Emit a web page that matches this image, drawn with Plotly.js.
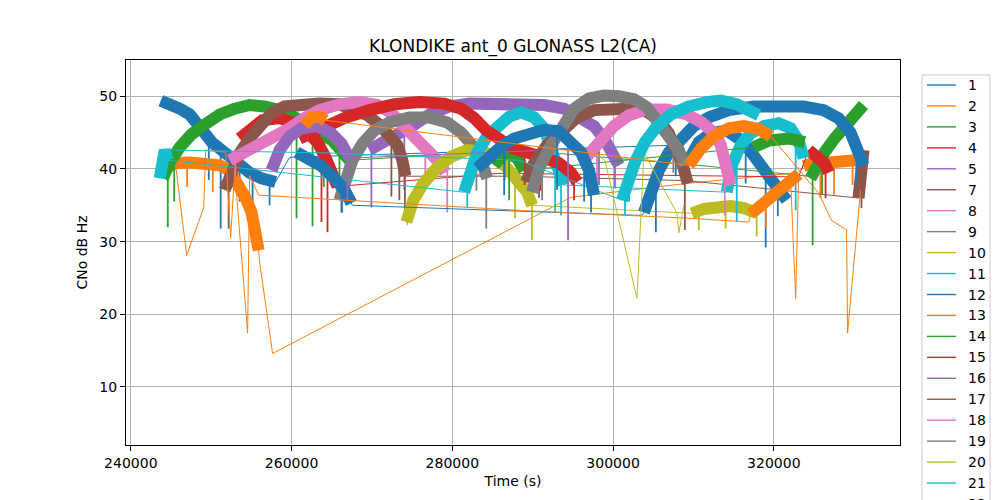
<!DOCTYPE html>
<html>
<head>
<meta charset="utf-8">
<script src="https://cdn.plot.ly/plotly-3.0.1.min.js"></script>
<style>html,body{margin:0;padding:0;background:#fff;}#chart{width:1000px;height:500px;}</style>
</head>
<body>
<div id="chart"></div>
<script>
// ---- tick labels ----
const xTickVals = [240000, 260000, 280000, 300000, 320000];
const xTickText = ['240000', '260000', '280000', '300000', '320000'];
const yTickVals = [10, 20, 30, 40, 50];
const yTickText = ['10', '20', '30', '40', '50'];

// ---- satellites (legend labels) ----
const satNames = ['1','2','3','4','5','7','8','9','10','11','12','13','14','15','16','17','18','19','20','21','22','23'];

// ---- per satellite ----
// sN_t / sN_c : tracked passes, time (s) / CNo (dB-Hz), null = gap between passes
// sN_lt / sN_lc : sparse samples between passes (thin line path)
// sN_dt / sN_dh / sN_dl : fades (time, CNo before fade, CNo at bottom of fade)
const s1_t = [243730,244840,246090,247330,248200,249190,250060,251300,252920,254780,256270,258010,null,309430,310670,312160,314150,316260,317870,319610,321600];
const s1_c = [49.4,49.0,48.3,47.5,46.4,44.6,43.7,42.6,40.9,39.5,38.7,38.2,null,41.2,43.7,44.9,45.3,43.7,41.2,38.7,35.7];
const s1_lt = [259750,308560];
const s1_lc = [41.6,43.3];
const s1_dt = [249700,251180,253540,255150,257260,316500,318990,320500];
const s1_dh = [44.0,42.7,40.3,39.3,38.5,43.3,40.0,37.5];
const s1_dl = [38.5,31.8,35.5,32.7,35.0,38.0,29.2,33.5];

const s2_t = [243980,245470,247330,249190,251050,252300,253290,254280,255030,255530,255900,null,323710,324950,326820,328680,330300,331160];
const s2_c = [39.8,40.8,40.9,40.8,40.5,39.8,38.2,36.0,34.0,31.3,28.8,null,40.4,40.8,40.9,41.1,41.2,40.6];
const s2_lt = [256020,257640,294770,309060,323090];
const s2_lc = [27.2,14.6,36.1,38.0,39.5];
const s2_dt = [247000,250200,325800,327500,329800];
const s2_dh = [40.9,40.6,40.8,41.0,41.1];
const s2_dl = [37.5,36.8,36.0,36.5,37.8];

const s3_t = [243980,244840,246090,247580,249190,251050,252920,254780,256640,258510,260370,261860,263470,265090,266330,267200,null,324580,325330,326320,327560,328800,330040,331160];
const s3_c = [38.7,40.9,43.0,44.8,46.1,47.5,48.3,48.8,48.6,48.1,47.1,45.9,45.0,43.9,42.6,41.2,null,38.7,40.5,42.3,44.2,46.0,47.7,48.8];
const s3_lt = [288310,310670,324330];
const s3_lc = [42.6,40.5,39.0];
const s3_dt = [244600,245400,260620,262610,264000,265960,324830,326000];
const s3_dh = [41.0,42.0,47.0,45.6,44.6,43.9,39.0,42.0];
const s3_dl = [32.0,35.5,33.2,32.1,37.5,36.2,29.5,36.5];

const s4_t = [253540,255030,256370,258510,260370,261980,263220,264220,265090,265710,null,324330,325330,326320,326820];
const s4_c = [44.2,45.6,46.7,47.0,46.3,45.0,43.7,41.6,39.5,37.6,null,42.6,41.7,40.8,39.5];
const s4_lt = [285830,323090];
const s4_lc = [39.4,38.9];
const s4_dt = [263720,264470,326440];
const s4_dh = [43.5,41.0,40.6];
const s4_dl = [32.7,31.3,36.0];

const s5_t = [269680,271550,273410,275270,277140,279620,282100,285210,288310,291420,293900,296010,297630,298870,299860,300730];
const s5_c = [42.6,43.7,44.9,46.1,47.5,48.6,49.0,49.0,48.9,48.8,48.3,47.2,45.9,44.2,42.6,40.5];
const s5_lt = [];
const s5_lc = [];
const s5_dt = [269930,274030,298250,300240];
const s5_dh = [42.8,45.3,45.2,42.0];
const s5_dl = [34.7,37.1,37.8,37.3];

const s7_t = [251680,252540,253540,254780,256020,257510,259130,260990,263470,265960,267820,269440,270930,272170,273160,273780,274160,null,330540,330790,331040,331160];
const s7_c = [37.1,39.8,42.2,44.2,45.9,47.7,48.6,48.9,49.0,48.9,48.3,47.4,46.1,44.8,43.3,41.2,39.0,null,36.0,38.7,41.2,42.6];
const s7_lt = [288310,309060];
const s7_lc = [39.0,38.4];
const s7_dt = [252170,272420,273410,274100,330910];
const s7_dh = [38.5,44.5,44.0,39.5,38.0];
const s7_dl = [31.8,36.2,35.7,34.3,34.6];

const s8_t = [252300,254160,256020,257890,259750,261610,263470,265960,268440,270680,272420,273780,275270,276890,278130,279120];
const s8_c = [41.2,42.3,43.1,44.2,45.6,47.0,48.1,48.9,49.2,48.8,47.7,46.1,44.2,42.6,41.2,39.5];
const s8_lt = [];
const s8_lc = [];
const s8_dt = [253000,276640,279370];
const s8_dh = [41.6,43.0,39.8];
const s8_dl = [38.5,37.6,34.0];

const s9_t = [265960,266580,267570,268810,270300,272170,274650,277140,279370,281110,282600,283590,284340];
const s9_c = [35.7,38.4,41.2,43.5,45.3,46.4,47.1,47.1,46.4,45.0,43.1,41.2,38.7];
const s9_lt = [];
const s9_lc = [];
const s9_dt = [266300,283000,284220];
const s9_dh = [37.5,42.4,39.5];
const s9_dl = [34.0,37.0,31.8];

const s10_t = [274280,275150,276390,278010,279870,281860,283850,285580,287070,288310,289310,289930,null,309800,311290,312910,314640,316260,317750];
const s10_c = [32.7,35.7,38.0,40.1,41.7,42.6,42.4,41.5,39.8,38.4,36.8,35.0,null,33.9,34.5,34.7,34.9,34.6,34.0];
const s10_lt = [];
const s10_lc = [];
const s10_dt = [274400,287800,289900,310670,314000,317870];
const s10_dh = [33.0,38.8,35.2,34.4,34.9,34.0];
const s10_dl = [32.3,33.2,30.2,31.6,31.8,30.7];

const s11_t = [243600,243850,244220,244600,null,281480,282100,283100,284340,285580,287070,288560,290180,291420,292290,293030,293780,null,314150,314770,315890,317130,318740,320610,322100,323090,323710];
const s11_c = [38.7,40.9,42.6,41.2,null,36.8,39.5,42.3,44.5,46.0,47.2,47.8,47.1,45.6,43.3,40.5,37.8,null,36.8,40.5,43.3,44.9,45.9,46.3,45.6,43.9,41.5];
const s11_lt = [];
const s11_lc = [];
const s11_dt = [281860,292790,293530,315390,322720];
const s11_dh = [37.5,41.8,39.0,42.5,44.8];
const s11_dl = [34.7,34.0,33.6,32.7,34.3];

const s12_t = [260620,262230,263720,265340,266580,267450,null,303840,304710,305700,306940,308430,310050,311910,314400,317500,320610,323710,326200,328060,329550,330540,331160];
const s12_c = [42.3,41.5,40.4,38.7,37.1,35.3,null,34.0,37.1,39.8,42.3,44.2,45.9,47.1,48.1,48.6,48.8,48.6,48.1,47.0,45.0,42.6,40.5];
const s12_lt = [267570,303590];
const s12_lc = [35.0,33.6];
const s12_dt = [266206,305330,307800,330290];
const s12_dh = [37.5,38.5,43.3,43.5];
const s12_dl = [34.0,31.3,39.0,37.8];

const s13_t = [317130,318370,319610,320850,322100,323090];
const s13_c = [33.8,34.9,36.0,37.1,38.3,39.3];
const s13_lt = [245590,246950,249070,249320,251800,252420,252920,254530,254780,255900,288310,309800,316880,322720];
const s13_lc = [40.4,28.1,34.7,42.6,42.3,30.5,39.8,17.4,39.1,36.4,34.3,33.2,32.7,22.2];
const s13_dt = [319000];
const s13_dh = [35.4];
const s13_dl = [32.0];

const s14_t = [285210,286450,288070,288940,null,317500,319360,321850,323840];
const s14_c = [40.5,42.3,41.5,39.8,null,43.0,43.9,44.2,43.7];
const s14_lt = [];
const s14_lc = [];
const s14_dt = [287070];
const s14_dh = [42.0];
const s14_dl = [35.7];

const s15_t = [260990,263470,266580,269680,272790,275890,278990,281100,282730,284220,285830,287690,289550,291420,293280,294770,295520];
const s15_c = [44.2,45.6,47.0,48.1,48.9,49.2,49.0,48.3,47.0,45.3,43.9,42.8,42.2,41.5,40.8,39.5,38.2];
const s15_lt = [];
const s15_lc = [];
const s15_dt = [286500,289000,291000,295150];
const s15_dh = [43.5,42.4,41.6,39.0];
const s15_dl = [38.5,37.8,37.0,35.7];

const s16_t = [257510,258510,259750,261240,263220,264960,266210,267200];
const s16_c = [39.8,42.6,44.5,45.6,45.9,44.9,43.5,41.5];
const s16_lt = [294400];
const s16_lc = [42.7];
const s16_dt = [266950,294400];
const s16_dh = [43.0,43.9];
const s16_dl = [35.7,30.2];

const s17_t = [289180,290180,291790,293530,295520,297630,299740,301980,304210,305700,306940,307940,308680,309300];
const s17_c = [38.2,40.8,43.3,45.3,47.1,48.1,48.3,48.3,47.9,46.7,44.9,42.8,40.5,38.0];
const s17_lt = [];
const s17_lc = [];
const s17_dt = [290800,308930];
const s17_dh = [40.5,39.0];
const s17_dl = [36.0,31.6];

const s18_t = [296640,298250,300110,301980,304210,306690,309180,311040,312530,313400,314150,314640];
const s18_c = [41.6,43.9,45.9,47.4,48.2,48.2,47.5,46.4,45.0,43.3,40.5,37.8];
const s18_lt = [];
const s18_lc = [];
const s18_dt = [298000,313900];
const s18_dh = [43.5,41.5];
const s18_dl = [37.1,33.6];

const s19_t = [289930,290800,292040,293530,295150,297010,298870,300730,302600,304210,305700,306940,308190,308930];
const s19_c = [36.8,40.1,42.8,45.6,48.3,49.7,50.1,50.0,49.6,48.5,46.4,44.5,42.6,40.5];
const s19_lt = [];
const s19_lc = [];
const s19_dt = [291170,307500];
const s19_dh = [41.0,43.5];
const s19_dl = [35.7,39.5];

const s20_t = [];
const s20_c = [];
const s20_lt = [297010,298990,302970,303840,307940,308190,308810];
const s20_lc = [42.6,41.2,22.2,42.3,33.9,31.2,35.0];
const s20_dt = [];
const s20_dh = [];
const s20_dl = [];

const s21_t = [301110,301730,302720,303960,305330,307190,309430,311660,313400,315390,317130,318120];
const s21_c = [35.7,38.2,40.9,43.7,45.7,47.5,48.6,49.2,49.4,48.9,48.1,47.4];
const s21_lt = [244840,264720,288310];
const s21_lc = [42.6,42.2,41.2];
const s21_dt = [301480,302000];
const s21_dh = [37.0,39.0];
const s21_dl = [33.6,35.5];

const s22_t = [283100,284590,286080,287690,289550,291420,293280,294770,296010,297010,297630];
const s22_c = [40.1,41.7,43.1,44.2,45.0,45.4,45.2,43.9,42.3,39.8,36.4];
const s22_lt = [];
const s22_lc = [];
const s22_dt = [286450,293030,296400,297260];
const s22_dh = [43.0,45.3,41.5,38.5];
const s22_dl = [36.4,37.1,35.5,34.0];

const s23_t = [261610,262480,263470,264220,null,309430,310920,312530,314400,316260,318120,319610];
const s23_c = [46.0,47.1,47.2,46.7,null,40.5,42.8,44.5,45.6,45.9,45.5,44.5];
const s23_lt = [325570,327190,329050,329180,330790];
const s23_lc = [36.7,32.9,31.6,17.4,37.1];
const s23_dt = [];
const s23_dh = [];
const s23_dl = [];

const satData = [
  [s1_t,s1_c,s1_lt,s1_lc,s1_dt,s1_dh,s1_dl],[s2_t,s2_c,s2_lt,s2_lc,s2_dt,s2_dh,s2_dl],
  [s3_t,s3_c,s3_lt,s3_lc,s3_dt,s3_dh,s3_dl],[s4_t,s4_c,s4_lt,s4_lc,s4_dt,s4_dh,s4_dl],
  [s5_t,s5_c,s5_lt,s5_lc,s5_dt,s5_dh,s5_dl],[s7_t,s7_c,s7_lt,s7_lc,s7_dt,s7_dh,s7_dl],
  [s8_t,s8_c,s8_lt,s8_lc,s8_dt,s8_dh,s8_dl],[s9_t,s9_c,s9_lt,s9_lc,s9_dt,s9_dh,s9_dl],
  [s10_t,s10_c,s10_lt,s10_lc,s10_dt,s10_dh,s10_dl],[s11_t,s11_c,s11_lt,s11_lc,s11_dt,s11_dh,s11_dl],
  [s12_t,s12_c,s12_lt,s12_lc,s12_dt,s12_dh,s12_dl],[s13_t,s13_c,s13_lt,s13_lc,s13_dt,s13_dh,s13_dl],
  [s14_t,s14_c,s14_lt,s14_lc,s14_dt,s14_dh,s14_dl],[s15_t,s15_c,s15_lt,s15_lc,s15_dt,s15_dh,s15_dl],
  [s16_t,s16_c,s16_lt,s16_lc,s16_dt,s16_dh,s16_dl],[s17_t,s17_c,s17_lt,s17_lc,s17_dt,s17_dh,s17_dl],
  [s18_t,s18_c,s18_lt,s18_lc,s18_dt,s18_dh,s18_dl],[s19_t,s19_c,s19_lt,s19_lc,s19_dt,s19_dh,s19_dl],
  [s20_t,s20_c,s20_lt,s20_lc,s20_dt,s20_dh,s20_dl],[s21_t,s21_c,s21_lt,s21_lc,s21_dt,s21_dh,s21_dl],
  [s22_t,s22_c,s22_lt,s22_lc,s22_dt,s22_dh,s22_dl],[s23_t,s23_c,s23_lt,s23_lc,s23_dt,s23_dh,s23_dl]
];

const tab10 = ['#1f77b4','#ff7f0e','#2ca02c','#d62728','#9467bd','#8c564b','#e377c2','#7f7f7f','#bcbd22','#17becf'];

const traces = [];
satNames.forEach(function(name, i) {
  const d = satData[i];
  const color = tab10[i % 10];
  // dense tracking band (noise envelope)
  if (d[0].length) {
    traces.push({x: d[0], y: d[1], type: 'scatter', mode: 'lines', showlegend: false,
      hoverinfo: 'skip', connectgaps: false, line: {color: color, width: 12}});
  }
  // fades
  if (d[4].length) {
    const fx = [], fy = [];
    d[4].forEach(function(t, k){ fx.push(t, t, null); fy.push(d[5][k], d[6][k], null); });
    traces.push({x: fx, y: fy, type: 'scatter', mode: 'lines', showlegend: false,
      hoverinfo: 'skip', connectgaps: false, line: {color: color, width: 1.8}});
  }
  // full time-ordered record (thin line): tracked + sparse samples
  const pts = [];
  d[0].forEach(function(t, k){ if (t !== null) pts.push([t, d[1][k]]); });
  d[2].forEach(function(t, k){ pts.push([t, d[3][k]]); });
  pts.sort(function(a,b){ return a[0]-b[0]; });
  traces.push({x: pts.map(p=>p[0]), y: pts.map(p=>p[1]), type: 'scatter', mode: 'lines', name: name,
    showlegend: false, line: {color: color, width: 1}});
});

// ---- legend (drawn like the reference: a tall box that runs off the bottom of the figure) ----
const plotL = 126, plotW = 774, plotB = 445, plotH = 385;
const px2x = function(px){ return (px - plotL) / plotW; };
const py2y = function(py){ return (plotB - py) / plotH; };
const shapes = [{type: 'rect', xref: 'paper', yref: 'paper', x0: px2x(922), x1: px2x(990), y0: py2y(540), y1: py2y(75),
                 line: {color: '#cccccc', width: 1}, fillcolor: 'rgba(255,255,255,0.8)', layer: 'above'}];
const annotations = [];
satNames.forEach(function(name, i) {
  const cy = 85 + 20.95 * i;
  shapes.push({type: 'line', xref: 'paper', yref: 'paper', x0: px2x(927), x1: px2x(956), y0: py2y(cy), y1: py2y(cy),
               line: {color: tab10[i % 10], width: 1.4}, layer: 'above'});
  annotations.push({xref: 'paper', yref: 'paper', x: px2x(966), y: py2y(cy), xanchor: 'left', yanchor: 'middle',
                    text: name, showarrow: false, font: {size: 14, color: 'black'}});
});

const axisCommon = {
  showgrid: true, gridcolor: '#b0b0b0', gridwidth: 1,
  showline: true, mirror: true, linecolor: 'black', linewidth: 1,
  ticks: 'outside', ticklen: 5, tickcolor: 'black', tickwidth: 1,
  zeroline: false, tickfont: {size: 14, color: 'black'}, automargin: false
};

const layout = {
  width: 1000, height: 500,
  margin: {l: 126, r: 100, t: 60, b: 55},
  paper_bgcolor: 'white', plot_bgcolor: 'white',
  font: {family: 'DejaVu Sans, sans-serif', size: 14, color: 'black'},
  title: {text: 'KLONDIKE ant_0 GLONASS L2(CA)', x: 0.5, xref: 'paper', xanchor: 'center',
          y: 1 - 46/500, yref: 'container', yanchor: 'middle', font: {size: 17, color: 'black'}},
  xaxis: Object.assign({}, axisCommon, {range: [239400, 335700], tickvals: xTickVals, ticktext: xTickText,
          title: {text: 'Time (s)', standoff: 6, font: {size: 14}}}),
  yaxis: Object.assign({}, axisCommon, {range: [2, 55], tickvals: yTickVals, ticktext: yTickText,
          title: {text: 'CNo dB Hz', standoff: 8, font: {size: 14}}}),
  showlegend: false,
  shapes: shapes,
  annotations: annotations
};

Plotly.newPlot('chart', traces, layout, {staticPlot: true, displayModeBar: false});
</script>
</body>
</html>
